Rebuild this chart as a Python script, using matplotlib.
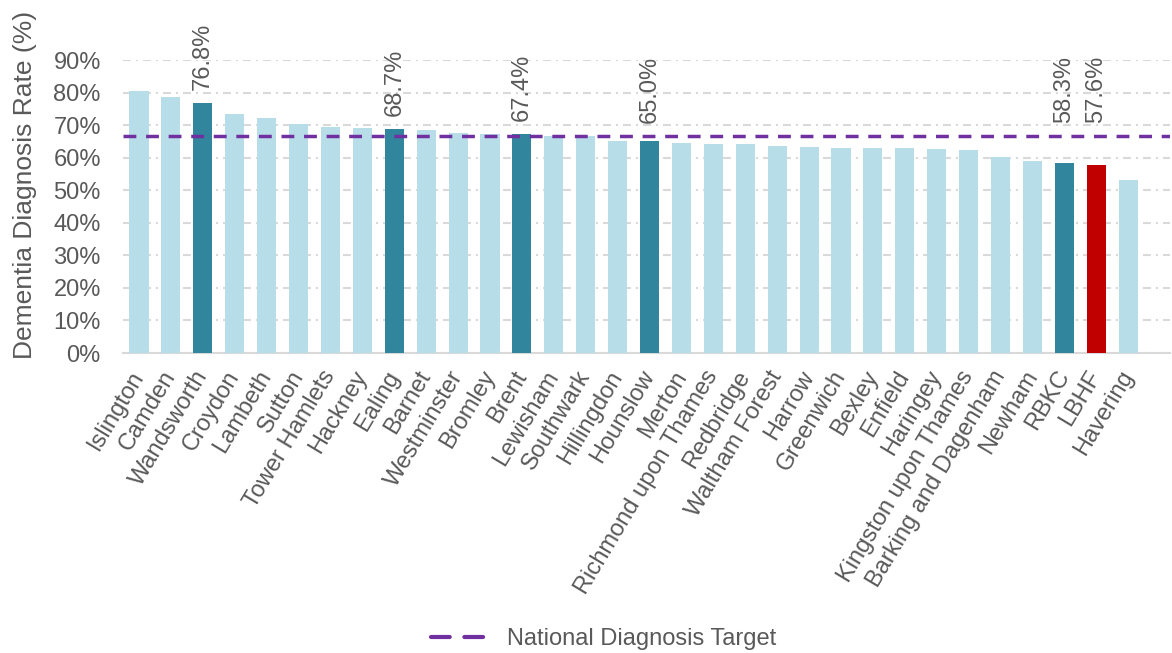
import matplotlib
matplotlib.use("Agg")
import matplotlib.pyplot as plt
from matplotlib.lines import Line2D
from matplotlib.ticker import FuncFormatter

boroughs = ["Islington", "Camden", "Wandsworth", "Croydon", "Lambeth", "Sutton",
            "Tower Hamlets", "Hackney", "Ealing", "Barnet", "Westminster", "Bromley",
            "Brent", "Lewisham", "Southwark", "Hillingdon", "Hounslow", "Merton",
            "Richmond upon Thames", "Redbridge", "Waltham Forest", "Harrow",
            "Greenwich", "Bexley", "Enfield", "Haringey", "Kingston upon Thames",
            "Barking and Dagenham", "Newham", "RBKC", "LBHF", "Havering"]
rates = [80.5, 78.5, 76.8, 73.5, 72.1, 70.4, 69.5, 69.1, 68.7, 68.4, 67.5, 67.2,
         67.4, 66.8, 66.7, 65.2, 65.0, 64.5, 64.3, 64.2, 63.7, 63.3, 63.0, 63.0,
         63.0, 62.8, 62.4, 60.2, 59.0, 58.3, 57.6, 53.2]
highlight = ["Wandsworth", "Ealing", "Brent", "Hounslow", "RBKC"]
focus = ["LBHF"]
target = 66.7
yticks = list(range(0, 91, 10))

c_light = "#B7DDE8"
c_dark = "#31859C"
c_red = "#C00000"
c_target = "#7030A0"
c_text = "#595959"
c_grid = "#D9D9D9"

plt.rcParams["font.family"] = ["Liberation Sans", "DejaVu Sans"]

fig = plt.figure(figsize=(11.72, 6.53), dpi=100)
ax = fig.add_axes([0.105, 0.4594, 0.893, 0.4487])

colors = [c_red if b in focus else (c_dark if b in highlight else c_light) for b in boroughs]
x = list(range(len(boroughs)))
ax.bar(x, rates, width=0.6, color=colors, zorder=3)

ax.axhline(target, color=c_target, lw=2.5, ls=(0, (3.7, 2.8)), zorder=4)

for xi, b, v in zip(x, boroughs, rates):
    if b in highlight or b in focus:
        ax.text(xi, max(v, target) + 4.0, f"{v:.1f}%", rotation=90, ha="center",
                va="bottom", fontsize=17, color=c_text, zorder=5)

ax.set_ylim(0, 90)
ax.set_xlim(-0.5, 32.3)
ax.set_yticks(yticks)
ax.yaxis.set_major_formatter(FuncFormatter(lambda v, p: f"{v:.0f}%"))
ax.set_xticks(x)
ax.set_xticklabels(boroughs, rotation=59, ha="right", va="center",
                   rotation_mode="anchor", fontsize=17, color=c_text)
ax.tick_params(axis="x", length=0, pad=14)
ax.tick_params(axis="y", length=0, labelsize=17, labelcolor=c_text, pad=16)
ax.grid(axis="y", color=c_grid, lw=1.5, ls=(0, (3.8, 2.4, 1, 2.4)), zorder=0)
ax.grid(axis="x", visible=False)
for s in ["top", "right", "left"]:
    ax.spines[s].set_visible(False)
ax.spines["bottom"].set_color(c_grid)
ax.spines["bottom"].set_linewidth(1.5)

ax.set_ylabel("Dementia Diagnosis Rate (%)", fontsize=19, color=c_text)
ax.yaxis.set_label_coords(-0.082, 0.572)

handle = Line2D([0], [0], color=c_target, lw=3, ls=(0, (4.5, 3.5)),
                dash_capstyle="round")
fig.legend([handle], ["National Diagnosis Target"], loc="lower center",
           bbox_to_anchor=(0.515, -0.028), frameon=False, fontsize=17,
           labelcolor=c_text, handlelength=2.4, handletextpad=0.8)

fig.savefig("out.png", dpi=100)
